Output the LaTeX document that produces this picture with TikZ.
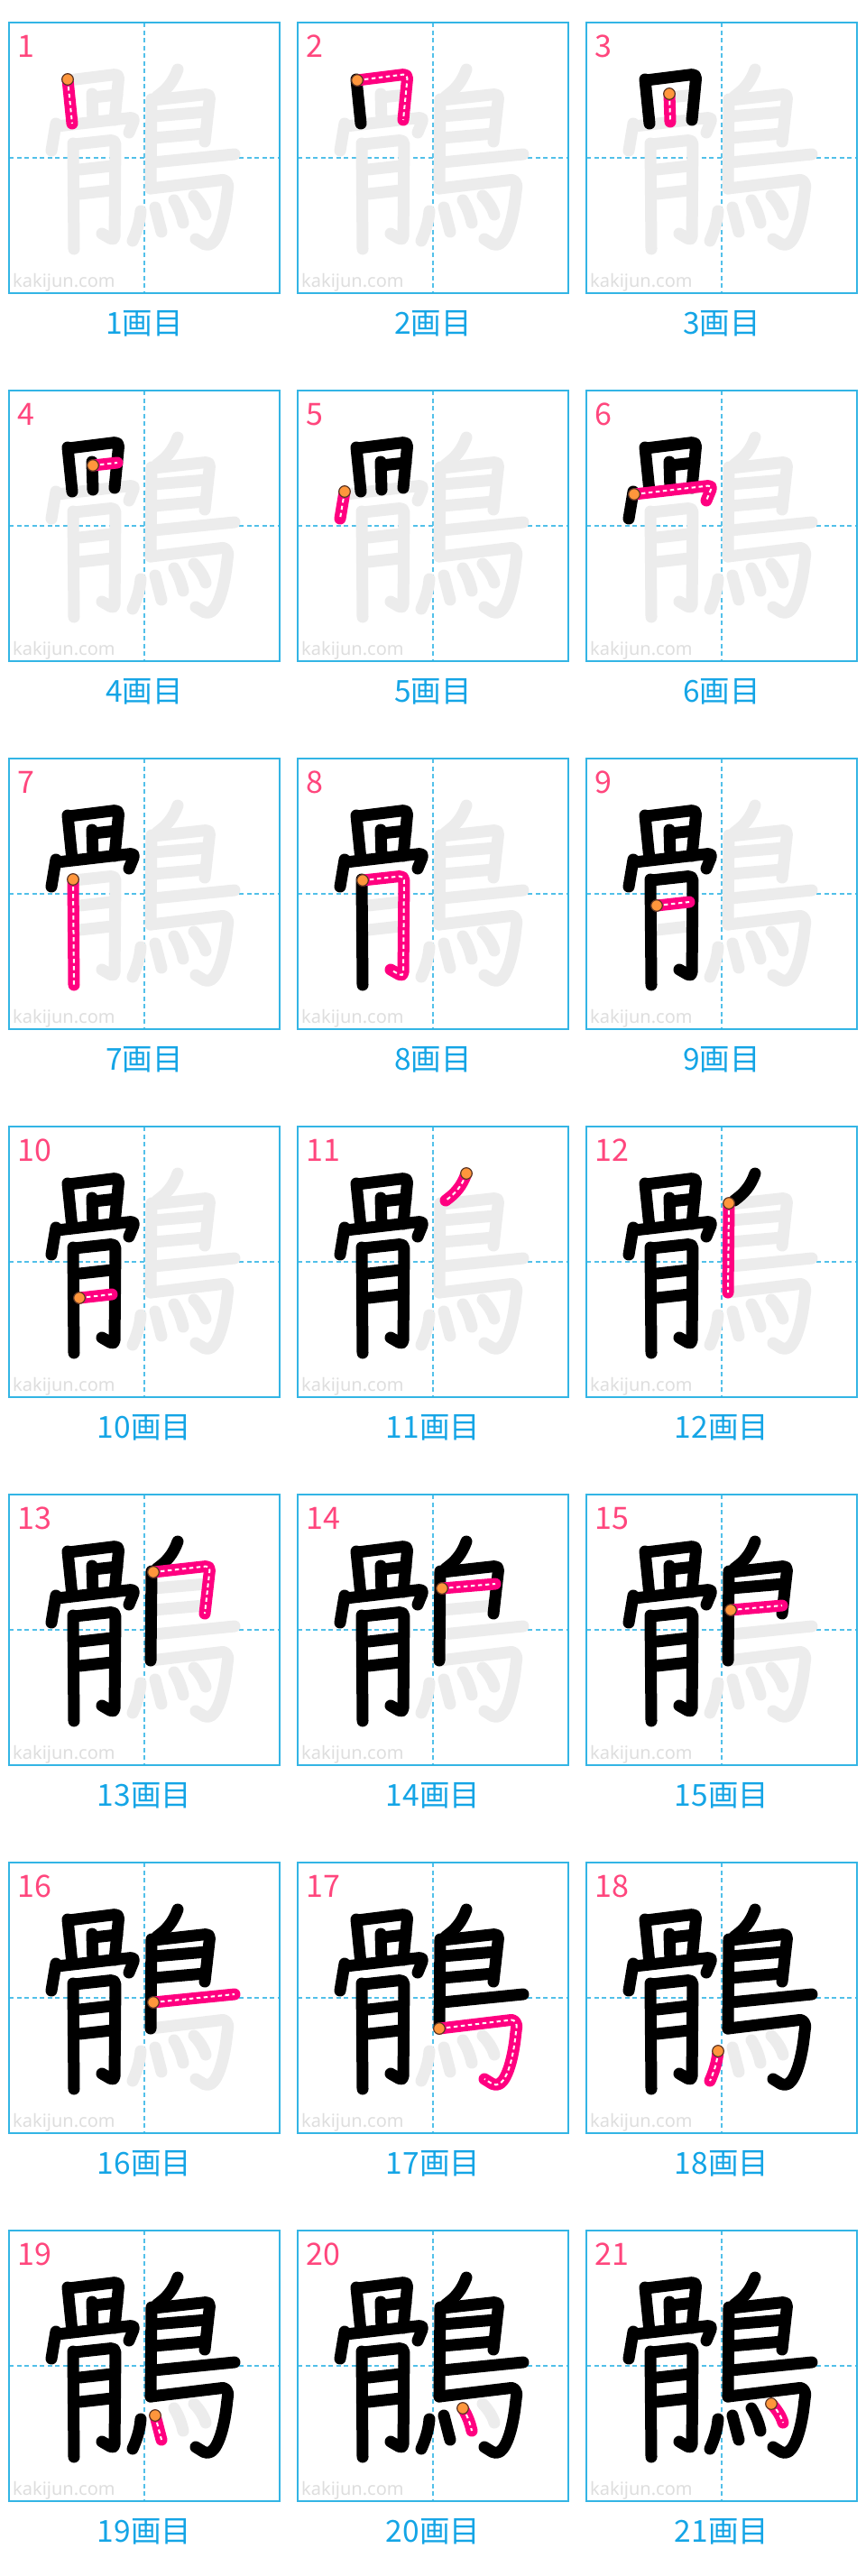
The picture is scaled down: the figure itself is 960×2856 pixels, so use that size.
\documentclass[tikz,border=0pt]{standalone}
\usepackage{fontspec}
\newfontfamily\jpfont{Noto Sans CJK JP}
\newfontfamily\wmfont{Noto Sans}

\definecolor{gridblue}{RGB}{51,181,229}
\definecolor{capblue}{RGB}{20,165,230}
\definecolor{numpink}{RGB}{255,70,125}
\definecolor{strokepink}{RGB}{255,0,128}
\definecolor{ghostgray}{RGB}{236,236,236}
\definecolor{dotorange}{RGB}{255,150,60}
\definecolor{dotrim}{RGB}{90,55,35}

% strokes of the character, in box pixels (y down)
\tikzset{
  sk1/.style={insert path={(65,63) coordinate (st) -- (70,112)}},
  sk2/.style={insert path={(66,64) coordinate (st) -- (122,57) -- (117,108)}},
  sk3/.style={insert path={(92,79) coordinate (st) -- (93,110)}},
  sk4/.style={insert path={(93,83) coordinate (st) -- (120,80)}},
  sk5/.style={insert path={(52,112) coordinate (st) -- (47,142)}},
  sk6/.style={insert path={(53,115) coordinate (st) -- (140,105) -- (133,122)}},
  sk7/.style={insert path={(71,134) coordinate (st) -- (72,251)}},
  sk8/.style={insert path={(72,135) coordinate (st) -- (118,130) -- (117,242) -- (103,234)}},
  sk9/.style={insert path={(78,163) coordinate (st) -- (114,159)}},
  sk10/.style={insert path={(78,190) coordinate (st) -- (114,186)}},
  sk11/.style={insert path={(187,52) coordinate (st) .. controls (182,66) and (175,74) .. (164,82)}},
  sk12/.style={insert path={(158,85) coordinate (st) -- (157,184)}},
  sk13/.style={insert path={(160,86) coordinate (st) -- (223,79) -- (217,132)}},
  sk14/.style={insert path={(160,104) coordinate (st) -- (219,99)}},
  sk15/.style={insert path={(160,128) coordinate (st) -- (217,123)}},
  sk16/.style={insert path={(160,155) coordinate (st) -- (250,146)}},
  sk17/.style={insert path={(157,184) coordinate (st) -- (232,175) .. controls (241,174) and (243,180) .. (242,187) .. controls (239,215) and (233,239) .. (220,248) -- (207,240)}},
  sk18/.style={insert path={(146,209) coordinate (st) .. controls (145,222) and (141,233) .. (137,242)}},
  sk19/.style={insert path={(162,205) coordinate (st) -- (169,232)}},
  sk20/.style={insert path={(183,197) coordinate (st) .. controls (188,205) and (191,213) .. (193,222)}},
  sk21/.style={insert path={(205,192) coordinate (st) .. controls (211,198) and (216,206) .. (218,213)}}
}

\begin{document}
\begin{tikzpicture}[
    x=1pt, y=-1pt,
    boxline/.style={draw=gridblue, line width=1.8pt},
    guide/.style={draw=gridblue!85, line width=1.8pt, dash pattern=on 5pt off 3.5pt},
    ghost/.style={draw=ghostgray, line width=13pt, line cap=round, line join=round, rounded corners=5pt},
    donestroke/.style={draw=black, line width=13pt, line cap=round, line join=round, rounded corners=5pt},
    curstroke/.style={draw=strokepink, line width=13pt, line cap=round, line join=round, rounded corners=5pt},
    curdash/.style={draw=white, line width=2pt, dash pattern=on 4.5pt off 3.5pt, rounded corners=5pt},
    startdot/.style={fill=dotorange, draw=dotrim, line width=1.2pt},
    numlabel/.style={anchor=base west, inner sep=0pt, text=numpink, font=\jpfont\fontsize{34}{34}\selectfont},
    caption/.style={anchor=base, inner sep=0pt, text=capblue, font=\jpfont\fontsize{33.5}{33.5}\selectfont},
    watermark/.style={anchor=base west, inner sep=0pt, text=black!13, font=\wmfont\fontsize{20}{20}\selectfont}
]
    \fill[white] (0,0) rectangle (960,2856);
    \useasboundingbox (0,0) rectangle (960,2856);
    % one panel per stroke
    \foreach \s in {1,...,21} {
        \pgfmathtruncatemacro\row{(\s-1)/3}
        \pgfmathtruncatemacro\col{mod(\s-1,3)}
        \begin{scope}[shift={(10+320*\col,25+408*\row)}]
            \node[watermark] (wm-\s) at (4,293) {kakijun.com};
            \draw[guide] (150,0) -- (150,300);
            \draw[guide] (0,150) -- (300,150);
            \draw[boxline] (0,0) rectangle (300,300);
            % strokes still to come, then strokes done
            \foreach \k in {1,...,21} {
                \ifnum\k>\s \draw[ghost, sk\k]; \fi
            }
            \foreach \k in {1,...,21} {
                \ifnum\k<\s \draw[donestroke, sk\k]; \fi
            }
            % current stroke
            \draw[curstroke, sk\s];
            \draw[curdash, sk\s];
            \filldraw[startdot] (st) circle (6.3);
            \node[numlabel] (num-\s) at (9,38) {\s};
            \node[caption] (cap-\s) at (150,345) {{\s}画目};
        \end{scope}
    }
\end{tikzpicture}
\end{document}
